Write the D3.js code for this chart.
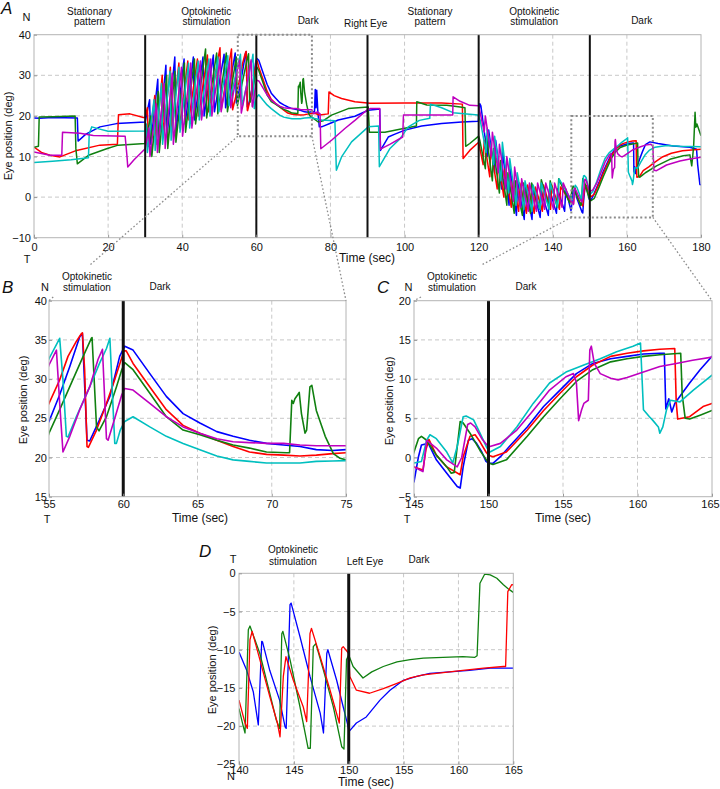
<!DOCTYPE html>
<html><head><meta charset="utf-8">
<script src="https://cdn.jsdelivr.net/npm/d3@7"></script>
<style>body{margin:0;background:#fff} text{font-family:"Liberation Sans",Arial,sans-serif;fill:#111}</style>
</head><body><svg id="c" width="720" height="789"></svg>
<script>
// ---------- DATA (time in sec, eye position in deg) ----------
const tickA_x = [0,20,40,60,80,100,120,140,160,180];
const tickA_y = [-10,0,10,20,30,40];
const tickB_x = [55,60,65,70,75], tickB_y = [15,20,25,30,35,40];
const tickC_x = [145,150,155,160,165], tickC_y = [-5,0,5,10,15,20];
const tickD_x = [140,145,150,155,160,165], tickD_y = [-25,-20,-15,-10,-5,0];
const eventsRight = [30,60,90,120,150];
const eventsLeft = [150];

const rightBlue = [[0,19.5],[1.5,19.4],[5,19.6],[11.7,19.5],[11.9,13.8],[14,15.5],[17.8,17.3],[22.3,18.1],[30,18.5],
[31.2,24],[31.5,13],[33.4,29],[33.7,14],[35.6,32.5],[35.9,15],[38,34.5],[38.3,16],[40.5,34],[40.8,18],[43,34.5],[43.3,19],[45.6,34.5],[45.9,20],[48.4,35],[48.7,21],[51.3,35.2],[51.7,22],[54.3,35.5],[54.6,23.2],
[55,24.6],[55.72,28],[56.4,31.6],[57.07,35.4],[57.25,35.8],[57.56,22.2],[57.74,22.1],[58.4,24.8],[59.1,27.8],[59.76,32.9],[60.1,34.2],[60.66,33.7],[61.79,30.7],[62.9,27.8],[64.03,25.6],[65.16,24.4],[66.3,23.3],[67.4,22.7],[68.5,22.2],[69.65,21.8],[70.8,21.6],[71.9,21.4],[73,21],[74.1,20.9],[75,21],
[75.7,21],[75.9,26.5],[76.1,22],[76.3,26.3],[76.6,21],[77,17.3],[77.6,17.3],[80,18.2],[82.1,19],[86.6,19.9],[90.2,21.4],[93.3,21.7],[93.5,11.5],[95.6,14.8],[97.4,15.5],[100.1,16.5],[104.6,17.5],[110,18.1],[115.4,18.5],[119.9,18.7],
[120.3,23],[120.6,22.5],[122.4,10],[122.7,16.5],[124.3,6],[124.6,14],[126.2,2],[126.5,11],[128.2,-2],[128.5,7],[130.2,-4.5],[130.5,4],[132.3,-5.5],[132.6,3],[134.4,-5.5],[134.7,2],[136.6,-5],[136.9,1.5],[138.8,-4.5],[139.1,2],[141,-4],[141.3,2],[143.2,-3.5],[143.5,2],[144.9,-3.3],
[145,-3.1],[145.3,0.1],[145.5,1.6],[145.96,1.8],[146.5,-0.3],[147.2,-2],[147.9,-3.7],[148.1,-3.9],[148.3,-1.2],[148.65,2.2],[148.9,2.4],[149.2,1.8],[149.55,0.7],[149.83,-0.5],[150,-0.7],[150.3,-0.75],[150.8,0.1],[151.4,1.4],[152.6,3.9],[153.7,6.5],[154.8,8.6],[155.9,10.7],[157,12],[158.2,12.6],[159.3,12.9],[160.4,13.2],[161.5,13.3],[161.8,13.3],[161.9,6.2],[162.1,7.5],[162.3,5.8],[162.5,6.9],[162.85,7.8],[163.5,9.5],[164.2,11.2],[165,12.9],
[166.2,13.6],[168.4,13.2],[172.5,12.6],[177,12.3],[178.8,11.8],[179.1,8],[179.7,3.1],[180,3]];

const rightRed = [[0,12.3],[2,11],[4.3,10.3],[7,9.9],[11.5,11.5],[17.8,12.8],[22.5,13],[22.8,20.3],[25.9,20.5],[29.5,19.6],[30,19.6],
[30.6,22],[30.9,12.5],[32.6,25],[32.9,13],[34.6,30],[34.9,15],[36.8,32],[37.1,16],[39.1,33],[39.4,17],[41.5,33.5],[41.8,19],[44.1,34],[44.4,20],[46.8,35],[47.1,21],[50.2,36.8],[50.5,21.5],[53.3,36.5],[53.6,21.5],
[55,26.9],[55.72,29.9],[56.28,32.9],[56.84,34.8],[57.18,35.8],[57.25,35.9],[57.4,31.2],[57.56,21.4],[57.65,21.3],[58.2,23.5],[58.8,26.5],[59.4,29.8],[60.05,33.6],[60.2,33.6],[60.66,32],[61.79,29],[62.9,26.1],[64.03,24.1],[65.16,23.1],[66.3,22.2],[67.4,21.4],[68.5,20.7],[69.65,20.4],[70.8,20.3],[71.9,20.2],[73,20.3],[74.1,20.5],[75,20.6],
[76,20.6],[77,20.2],[79.4,20.5],[79.6,25.9],[81,25],[83,24.3],[86.6,23.5],[90.7,23.1],[100.1,23.2],[110,23.2],[115.6,22.9],[115.8,9.5],[117.6,11.5],[120,13.5],
[121.2,8],[121.5,14],[123,5],[123.3,12],[125,2],[125.3,9],[126.8,0],[127.1,7],[128.8,-2.5],[129.1,4],[130.8,-3.5],[131.1,3.5],[132.9,-4],[133.2,3],[135,-4],[135.3,2.5],[137.2,-3.5],[137.5,3],[139.4,-3],[139.7,3],[141.8,-3],[142.1,2.5],[144.6,-1],
[145,-1.2],[145.3,-1.4],[145.6,-1.6],[145.8,1],[146,2.3],[146.5,0.3],[147.2,-1.2],[148.1,-2.2],[148.3,0.1],[148.76,2.7],[149.1,2.9],[149.43,2],[149.83,0.7],[150,0.3],[150.3,0.1],[151.2,0.7],[152.6,3.5],[153.7,6],[154.8,8.2],[155.9,10.3],[157,11.8],[158.2,12.9],[159.3,13.3],[160.4,13.6],[161.5,13.8],[162.5,13.9],[162.6,7],[162.7,4.9],[163.5,5.2],[164.4,6.5],[165,6.9],
[166,7.5],[167.1,8.3],[169.4,9.8],[172,10.8],[175,11.4],[180,11.8]];

const rightGreen = [[0,12.3],[1.2,12.5],[1.4,19.7],[5,19.8],[11.1,20],[11.3,12],[11.7,8.2],[14.7,10.3],[19.6,11.9],[22.7,12.8],[30,13.2],
[31.5,20],[31.8,10],[33.5,26],[33.8,11],[35.8,30],[36.1,12],[38,31],[38.3,13.5],[40.6,33],[40.9,16],[43.3,34],[43.6,18],[46.3,36.5],[46.6,19.5],[49.3,35.5],[49.6,20.5],[51.9,35.5],[52.2,21],[54.6,34.5],[54.9,22.5],
[55,23.1],[55.72,26.1],[56.6,29.9],[57.3,32.9],[57.85,35.2],[57.9,35.3],[58.2,23.9],[58.37,23.4],[58.87,25.2],[59.54,29],[59.9,31.2],[60.1,32.1],[60.66,31.2],[61.79,28.2],[62.9,25.2],[64.03,23.5],[65.16,22.9],[66.3,22.2],[67.4,21.6],[68.5,21.2],[69.65,20.7],[71,20.6],[71.2,20.6],[71.35,27.3],[71.45,26.9],[71.56,27.5],[71.75,28],[71.85,28.3],[72,25.6],[72.24,23.1],[72.35,23.5],[72.57,29],[72.7,29.2],[73,26],[73.6,22.7],[74.15,20.5],[74.6,19.9],[75,19.7],
[75.4,19.4],[76.7,18.5],[78,18.8],[80.3,20.2],[84.8,21.8],[90.2,22.2],[90.5,16],[94.7,16],[99.7,16.9],[103.2,17.5],[103.3,23.5],[106,22.7],[111.4,22.6],[115,22.2],[116.3,22],[116.5,12.5],[117.6,13.2],[120,15],
[120.3,14],[121.8,7],[122.1,15],[123.7,4],[124,12],[125.6,1],[125.9,9],[127.6,-2],[127.9,6],[129.6,-4],[129.9,4],[131.8,-4.5],[132.1,3.5],[134,-4],[134.3,3.5],[136.5,-3],[136.9,4.3],[139,-2.5],[139.3,4],[141.2,-2.5],[141.6,4.5],[144.6,-1.5],
[145,0.7],[145.3,2.4],[145.5,2.7],[145.85,2.2],[146.5,0.3],[147.2,-1.2],[147.5,-2],[147.7,-1.9],[148.1,4.6],[148.3,4.4],[148.76,3.1],[149.43,0.9],[150,-0.7],[150.3,-0.9],[151.2,-0.3],[152.6,2.7],[153.7,5.2],[154.8,7.5],[155.9,9.7],[157,11.2],[158.2,12.2],[159.3,12.6],[160.4,12.9],[161.5,13.1],[162.9,13.3],[163,8],[163.2,5],[163.5,4.9],[164.2,5.4],[165,6],
[168,7.7],[171.6,9.3],[175.2,10.2],[177,10.4],[177.5,7.7],[178,12.3],[178.4,20.9],[178.6,17.2],[178.9,18],[180,15.1]];

const rightCyan = [[0,8.5],[5,8.8],[10,9.2],[14.7,9.7],[14.9,15.6],[15.6,17.3],[17.5,16.8],[20,16.2],[30,16.3],
[30.3,18],[30.6,11],[32.4,24],[32.7,11.5],[34.4,28],[34.7,13],[36.7,31],[37,14],[39.1,32],[39.4,16],[41.7,33],[42,17],[44.3,33.5],[44.6,19],[47.2,34],[47.5,20],[49.6,34.5],[49.9,21],[52.3,34.8],[52.6,22.5],
[55,32.6],[55.72,35.2],[55.94,29.9],[56.17,22.7],[56.28,22.6],[56.84,25.2],[57.74,29],[58.4,32],[58.87,33.9],[59.1,35.2],[59.3,26.9],[59.43,21.8],[59.54,21.8],[59.8,23.5],[60.1,24.6],[60.66,25.2],[61.79,23.9],[62.9,22.7],[64.03,21.8],[65.16,21],[66.3,20.2],[67.4,19.7],[68.5,19.5],[69.65,19.3],[70.8,19.3],[71.9,19.3],[73,19.5],[74.1,19.55],[75,19.6],
[75.4,19.4],[77.6,19],[81.2,18.8],[81.6,6.6],[83,9.9],[85.7,13.6],[90.2,17.3],[93,17.5],[93.2,7.5],[96,11.9],[98.8,14.4],[101,17.3],[104,18.9],[106.8,19.4],[107,22.9],[110,22],[113.1,20.8],[119.8,20.2],
[120.4,19],[122,11],[122.3,17],[124,8],[124.3,15],[126,4],[126.4,13.5],[128.1,1],[128.4,9.5],[130.1,-2],[130.4,6],[132.2,-3],[132.5,4],[134.4,-3.5],[134.7,3],[136.6,-3],[136.9,3.5],[139,-3],[139.3,3.5],[141.3,-2.5],[141.7,4.5],
[145,-0.7],[145.5,-0.5],[145.85,2.2],[146.07,2.9],[146.5,2.4],[147.2,0.7],[147.6,-0.7],[147.9,1.4],[148.3,5.2],[148.5,5.3],[149,4.8],[149.43,3.1],[149.9,1.2],[150.1,0.7],[150.8,1.4],[151.9,3.9],[153,6.9],[154.1,9.5],[155.2,10.9],[156.4,11.8],[157.5,12.6],[158.6,13.5],[159.7,14.2],[160.2,14.6],[160.4,6.1],[160.8,5.2],[161,4.8],[161.4,3.9],[161.5,3.1],[161.7,3.9],[161.95,6.1],[162.2,7.3],[162.85,7.1],[163.75,8.6],[165,10.5],
[166,11.5],[167.6,12.3],[170.8,12.7],[174.3,12.5],[180,12.4]];

const rightMagenta = [[0,11.1],[4.3,10.3],[7.5,10.3],[7.7,16],[12.4,15.7],[16,15.2],[24.6,15],[25.1,10],[25.3,7.4],[27,9.2],[30,11.9],
[31,17],[31.3,10],[33,23],[33.3,11],[35.1,28],[35.4,12],[37.3,30.5],[37.6,13],[39.8,32],[40.1,15],[42.3,33],[42.6,17],[44.9,33.5],[45.2,19],[47.7,34],[48,20],[50.2,34],[50.5,21],[52.8,33.5],[53.1,22],
[55,31.8],[55.5,33.7],[55.72,26.9],[55.94,20.7],[56.4,22.7],[57.07,26.1],[57.74,29],[58.3,32.5],[58.6,33.8],[58.87,22.4],[58.98,22.2],[59.43,25],[59.9,28],[60.1,28.8],[60.66,28.6],[61.79,26.9],[62.9,25.2],[64.03,23.9],[65.16,23.1],[66.3,22.4],[67.4,22],[68.5,21.9],[69.65,21.8],[70.8,21.8],[71.9,21.6],[73,21.5],[74.1,21.5],[75,21.5],
[75.4,20.6],[76.5,21],[77.2,20.5],[77.4,11.9],[80.3,14],[83.9,16.9],[86.6,18.9],[89.8,21.4],[90.7,21.8],[93.3,21.8],[93.5,11.8],[96,13],[99.5,14.8],[99.7,20.2],[113,20.2],[113.1,24.7],[115,23.6],[117.6,22.6],[120,22.5],
[121.5,16],[121.8,20],[123.4,10],[123.7,16],[125.3,6],[125.6,13],[127.3,2],[127.6,10],[129.4,-1],[129.7,7.4],[131.3,-2.5],[131.6,4.5],[133.4,-3.5],[133.7,3.5],[135.6,-3.5],[135.9,3.5],[137.8,-3],[138.1,3.5],[140.2,-3],[140.5,3.5],[142.5,-2.5],[142.8,3.5],
[145,-1.2],[145.4,-1.6],[145.6,-1.8],[145.85,2.2],[146.5,1.2],[147.2,-0.3],[147.9,-1.2],[148.2,0],[148.6,4.2],[148.8,4.4],[149.1,3.9],[149.55,2.4],[149.9,1.6],[150.1,1.4],[150.8,1.8],[151.9,3.5],[153,6],[154.1,8.6],[155.2,10.3],[155.7,10.7],[155.9,9.5],[156.05,4.7],[156.25,6.1],[156.4,6.9],[156.7,7.3],[156.8,13.7],[156.9,14.2],[157.1,12],[157.5,10.7],[158.2,10.1],[158.7,9.9],[159.3,10.2],[160.4,10.9],[161.5,11.6],[162.6,12],[163.7,12.4],[165,12.8],
[166.5,13],[167,12.5],[167.3,6.6],[168,6.5],[170.7,7.9],[174.3,8.9],[177,9.4],[180,9.8]];

const leftBlue = [[140,-10.3],[140.7,-12.7],[141.3,-15.5],[141.76,-19.85],[142.07,-8.9],[142.15,-9],[142.8,-12.7],[143.7,-16.6],[144.2,-20.1],[144.3,-20.3],[144.65,-4.1],[144.75,-3.9],[145.56,-8.3],[146.47,-13.5],[147.4,-18.3],[147.7,-20.9],[148,-10.5],[148.1,-10],[148.9,-14],[149.5,-17.5],[149.87,-19.6],[150,-20.5],[150.1,-20.6],[150.7,-19.6],[151.6,-18.8],[152.85,-16.6],[153.76,-15.3],[154.98,-14],[156.2,-13.5],[157.4,-13.1],[159.2,-12.9],[161,-12.7],[162.9,-12.4],[164.1,-12.4],[165,-12.4]];
const leftGreen = [[140,-17.7],[140.4,-20.1],[140.55,-20.9],[140.85,-7.4],[141,-6.9],[141.9,-10.5],[142.8,-15.7],[143.4,-19.2],[143.7,-20.3],[143.9,-7.9],[144,-7.6],[144.65,-11.3],[145.56,-17.5],[146.3,-22.9],[146.5,-22.9],[146.77,-9.6],[147,-9.2],[147.7,-12.7],[148.6,-17.5],[149.36,-22.7],[149.57,-23],[149.8,-11.3],[150,-10.7],[150.4,-12.2],[151.3,-13.7],[152.1,-12.9],[153.15,-12.2],[154.4,-11.6],[155.6,-11.3],[156.8,-11.1],[158.6,-11],[160.4,-10.9],[161.5,-11],[161.7,-10.8],[161.96,-1.3],[162.4,-0.1],[162.9,-0.2],[163.5,-0.65],[164.1,-1.5],[164.5,-2],[164.9,-2.4],[165,-2.5]];
const leftRed = [[140,-16.6],[140.55,-19.6],[140.76,-20.3],[141,-8.7],[141.2,-7.6],[141.9,-11.3],[142.8,-16.1],[143.5,-19.6],[143.74,-21.4],[144.04,-13.5],[144.28,-10.9],[144.95,-14],[145.86,-17.5],[146.17,-19.4],[146.47,-7.9],[146.6,-7.2],[147.4,-10.9],[148.3,-15.3],[149.14,-19.6],[149.36,-9.8],[149.5,-9.6],[150,-10.5],[150.1,-13.5],[150.7,-15.3],[151.9,-15.7],[153.15,-15.1],[154.4,-14.4],[155.6,-13.7],[156.8,-13.3],[158.6,-13],[160.4,-12.7],[162.3,-12.4],[164.1,-12.2],[164.3,-12.2],[164.5,-2.4],[164.85,-1.5],[165,-1.5]];

const C = {blue:'#0000ff', green:'#108010', red:'#ff0000', cyan:'#00bfbf', magenta:'#bf00bf'};
const rightTraces = [
  {data:rightBlue, color:C.blue},{data:rightRed, color:C.red},{data:rightGreen, color:C.green},
  {data:rightCyan, color:C.cyan},{data:rightMagenta, color:C.magenta}];
const leftTraces = [{data:leftBlue, color:C.blue},{data:leftGreen, color:C.green},{data:leftRed, color:C.red}];

// ---------- DRAW ----------
const svg = d3.select('#c');
const FONT = '"Liberation Sans",Arial,sans-serif';

function panel(o){
  const g = svg.append('g');
  const x = d3.scaleLinear().domain(o.xd).range([o.l,o.r]);
  const y = d3.scaleLinear().domain(o.yd).range([o.b,o.t]);
  g.selectAll(null).data(o.xt.filter(v=>v>o.xd[0]&&v<o.xd[1])).join('line')
    .attr('x1',d=>x(d)).attr('x2',d=>x(d)).attr('y1',o.t).attr('y2',o.b)
    .attr('stroke','#c8c8c8').attr('stroke-width',1).attr('stroke-dasharray','4,3');
  g.selectAll(null).data(o.yt.filter(v=>v>o.yd[0]&&v<o.yd[1])).join('line')
    .attr('y1',d=>y(d)).attr('y2',d=>y(d)).attr('x1',o.l).attr('x2',o.r)
    .attr('stroke','#c8c8c8').attr('stroke-width',1).attr('stroke-dasharray','4,3');
  const id='clip'+o.name;
  svg.append('clipPath').attr('id',id).append('rect')
    .attr('x',o.l).attr('y',o.t).attr('width',o.r-o.l).attr('height',o.b-o.t);
  const lg = g.append('g').attr('clip-path',`url(#${id})`);
  const line = d3.line().x(d=>x(d[0])).y(d=>y(d[1]));
  o.traces.forEach(tr=>{
    lg.append('path').datum(tr.data).attr('d',line).attr('fill','none')
      .attr('stroke',tr.color).attr('stroke-width',o.lw).attr('stroke-linejoin','round');
  });
  o.events.forEach(e=>{
    g.append('line').attr('x1',x(e)).attr('x2',x(e)).attr('y1',o.t).attr('y2',o.b)
      .attr('stroke','#111').attr('stroke-width',o.ew);
  });
  g.append('rect').attr('x',o.l).attr('y',o.t).attr('width',o.r-o.l).attr('height',o.b-o.t)
    .attr('fill','none').attr('stroke','#b4b4b4').attr('stroke-width',1);
  const ax = g.append('g').attr('transform',`translate(0,${o.b})`)
    .call(d3.axisBottom(x).tickValues(o.xt).tickSizeInner(-3).tickSizeOuter(0).tickPadding(o.xpad));
  const ay = g.append('g').attr('transform',`translate(${o.l},0)`)
    .call(d3.axisLeft(y).tickValues(o.yt).tickSizeInner(-3).tickSizeOuter(0).tickPadding(o.ypad));
  [ax,ay].forEach(a=>{
    a.select('.domain').remove();
    a.selectAll('line').attr('stroke','#999');
    a.selectAll('text').attr('font-size',11).attr('font-family',FONT).attr('fill','#111');
  });
  if(o.lastShift) ax.selectAll('text').filter((d,i,n)=>i===n.length-1).attr('dx',o.lastShift);
  return {x,y};
}

function txt(x,y,s,opt={}){
  const t = svg.append('text').attr('x',x).attr('y',y).text(s)
    .attr('font-size',opt.size||10).attr('text-anchor',opt.anchor||'middle').attr('font-family',FONT);
  if(opt.italic) t.attr('font-style','italic');
  if(opt.rot) t.attr('transform',`rotate(-90,${x},${y})`);
  return t;
}

const A = panel({name:'A',xd:[0,180],yd:[-10,40],l:34,r:701,t:34.7,b:237.7,xt:tickA_x,yt:tickA_y,
  traces:rightTraces,events:eventsRight,lw:1.5,ew:2,xpad:6,ypad:3});
const B = panel({name:'B',xd:[55,75],yd:[15,40],l:49,r:346,t:300.7,b:496.7,xt:tickB_x,yt:tickB_y,
  traces:rightTraces,events:[60],lw:1.6,ew:3,xpad:3.3,ypad:2});
const Cp = panel({name:'C',xd:[145,165],yd:[-5,20],l:414,r:712,t:300.7,b:496.7,xt:tickC_x,yt:tickC_y,
  traces:rightTraces,events:eventsLeft,lw:1.6,ew:3,xpad:3.3,ypad:3,lastShift:-2});
const D = panel({name:'D',xd:[140,165],yd:[-25,0],l:239,r:513.3,t:573.3,b:764.3,xt:tickD_x,yt:tickD_y,
  traces:leftTraces,events:eventsLeft,lw:1.3,ew:3,xpad:2,ypad:3.5});

// zoom rectangles in A and connectors
const dotted = {stroke:'#8c8c8c', w:2, dash:'2,2.4'};
function dline(x1,y1,x2,y2,w){
  svg.append('line').attr('x1',x1).attr('y1',y1).attr('x2',x2).attr('y2',y2)
    .attr('stroke',dotted.stroke).attr('stroke-width',w||1.3).attr('stroke-dasharray',w?dotted.dash:'1.6,2.2');
}
function zoomBox(t0,t1,v0,v1){
  const x0=A.x(t0),x1=A.x(t1),y0=A.y(v1),y1=A.y(v0);
  svg.append('rect').attr('x',x0).attr('y',y0).attr('width',x1-x0).attr('height',y1-y0)
    .attr('fill','none').attr('stroke',dotted.stroke).attr('stroke-width',dotted.w).attr('stroke-dasharray',dotted.dash);
}
zoomBox(55,75,15,40);
zoomBox(145,167,-5,20);
function connector(p,q,gap){
  if(!gap){ dline(p[0],p[1],q[0],q[1]); return; }
  const f1=(gap[0]-p[1])/(q[1]-p[1]), f2=(gap[1]-p[1])/(q[1]-p[1]);
  dline(p[0],p[1],p[0]+(q[0]-p[0])*f1,gap[0]);
  dline(p[0]+(q[0]-p[0])*f2,gap[1],q[0],q[1]);
}
connector([A.x(55),A.y(15)],[B.x(55),B.y(40)],[265,297]);
connector([A.x(75),A.y(15)],[B.x(75),B.y(40)]);
connector([A.x(145),A.y(-5)],[Cp.x(145),Cp.y(20)],[265,297]);
connector([A.x(167),A.y(-5)],[Cp.x(165),Cp.y(20)]);

// ---------- TEXT ----------
// Panel A
txt(1,13.5,'A',{size:17,anchor:'start',italic:true});
txt(26.5,21,'N',{size:11});
txt(27,263,'T',{size:11});
txt(367,262,'Time (sec)',{size:12});
txt(12,136,'Eye position (deg)',{size:11,rot:true});
const headA = [[15,'Stationary','pattern'],[46.5,'Optokinetic','stimulation'],[106.9,'Stationary','pattern'],[135,'Optokinetic','stimulation']];
headA.forEach(h=>{ txt(A.x(h[0]),15,h[1]); txt(A.x(h[0]),25,h[2]); });
txt(A.x(74),24,'Dark'); txt(A.x(164),24,'Dark');
txt(A.x(89.5),26.5,'Right Eye');
// Panel B
txt(2,293,'B',{size:17,anchor:'start',italic:true});
txt(45,291,'N',{size:11});
txt(47,523,'T',{size:11});
txt(200,522,'Time (sec)',{size:12});
txt(26.5,400,'Eye position (deg)',{size:11,rot:true});
txt(87,280,'Optokinetic'); txt(87,290.5,'stimulation'); txt(160,290,'Dark');
// Panel C
txt(377,293,'C',{size:17,anchor:'start',italic:true});
txt(408.5,290.5,'N',{size:11});
txt(407,523,'T',{size:11});
txt(563,522,'Time (sec)',{size:12});
txt(393,401,'Eye position (deg)',{size:11,rot:true});
txt(452,280,'Optokinetic'); txt(452,290.5,'stimulation'); txt(526,290,'Dark');
// Panel D
txt(199,557,'D',{size:17,anchor:'start',italic:true});
txt(233,563,'T',{size:11});
txt(231,780,'N',{size:11});
txt(366,786,'Time (sec)',{size:12});
txt(215.5,670,'Eye position (deg)',{size:11,rot:true});
txt(293,553.3,'Optokinetic'); txt(293,564.5,'stimulation');
txt(365,564.5,'Left Eye'); txt(419,563,'Dark');
</script></body></html>
